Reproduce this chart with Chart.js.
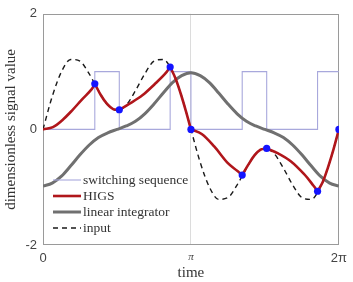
<!DOCTYPE html>
<html><head><meta charset="utf-8">
<script src="https://cdn.jsdelivr.net/npm/chart.js@4.4.1/dist/chart.umd.min.js"></script>
<style>html,body{margin:0;padding:0;background:#fff;}</style>
</head><body>
<canvas id="c" width="353" height="282" style="width:353px;height:282px;display:block"></canvas>
<script>
// ---- data ----
const PI = Math.PI;
const xTickValues = [0, PI, 2 * PI];
const xTickLabels = ['0', 'π', '2π'];
const yTickValues = [-2, 0, 2];
const yTickLabels = ['-2', '0', '2'];

const seriesLabels = ['switching sequence', 'HIGS', 'linear integrator', 'input'];

// input signal (dashed)
const inputTimes = [0, 0.196, 0.393, 0.589, 0.785, 0.982, 1.178, 1.374, 1.571, 1.767, 1.963, 2.160, 2.356, 2.553, 2.749, 2.945, 3.1416,
  3.338, 3.534, 3.731, 3.927, 4.123, 4.320, 4.516, 4.712, 4.909, 5.105, 5.301, 5.498, 5.694, 5.890, 6.087, 6.2832];
const inputValues = [0, 0.57, 1.00, 1.21, 1.18, 0.96, 0.67, 0.42, 0.33, 0.42, 0.67, 0.96, 1.18, 1.21, 1.00, 0.57, 0,
  -0.57, -1.00, -1.21, -1.18, -0.96, -0.67, -0.42, -0.33, -0.42, -0.67, -0.96, -1.18, -1.21, -1.00, -0.57, 0];

// linear integrator (grey), same time grid as input
const integratorValues = [-0.98, -0.93, -0.81, -0.63, -0.44, -0.27, -0.14, -0.06, 0, 0.06, 0.14, 0.27, 0.44, 0.63, 0.81, 0.93, 0.98,
  0.93, 0.81, 0.63, 0.44, 0.27, 0.14, 0.06, 0, -0.06, -0.14, -0.27, -0.44, -0.63, -0.81, -0.93, -0.98];

// switching sequence: state that starts at each time
const switchTimes = [0, 1.10, 1.62, 2.70, 3.1416, 4.23, 4.75, 5.83, 6.2832];
const switchStates = [0, 1, 0, 1, 0, 1, 0, 1, 1];

// HIGS output (red), corners at the switching instants
const higsTimes = [0, 0.21, 0.41, 0.62, 0.83, 1.04, 1.10, 1.23, 1.36, 1.49, 1.62, 1.83, 2.11, 2.38, 2.59, 2.70, 2.81, 2.92, 3.03, 3.1416,
  3.37, 3.64, 3.92, 4.13, 4.23, 4.36, 4.49, 4.62, 4.75, 4.98, 5.26, 5.54, 5.74, 5.83, 5.94, 6.05, 6.17, 6.2832];
const higsValues = [0, 0.04, 0.16, 0.33, 0.52, 0.70, 0.79, 0.59, 0.44, 0.35, 0.34, 0.44, 0.59, 0.79, 0.96, 1.08, 0.89, 0.63, 0.33, 0,
  -0.08, -0.30, -0.58, -0.72, -0.79, -0.61, -0.45, -0.35, -0.33, -0.41, -0.55, -0.77, -0.97, -1.07, -0.91, -0.66, -0.34, 0];

// ---- build datasets ----
const pts = (xs, ys) => xs.map((x, i) => ({ x: x, y: ys[i] }));
const isSwitch = t => switchTimes.slice(1).some(s => Math.abs(s - t) < 1e-3);

const higsSegments = [];
let seg = [];
higsTimes.forEach((t, i) => {
  seg.push({ x: t, y: higsValues[i] });
  if (isSwitch(t) && seg.length > 1) { higsSegments.push(seg); seg = [{ x: t, y: higsValues[i] }]; }
});
if (seg.length > 1) higsSegments.push(seg);

const dotPoints = [];
higsTimes.forEach((t, i) => { if (isSwitch(t)) dotPoints.push({ x: t, y: higsValues[i] }); });

const RED = '#b0161b', GREY = '#707070', LAV = '#a8a8dc', BLUE = '#1414ff';

const datasets = [];
datasets.push({ label: '', data: dotPoints, showLine: false, pointRadius: 3.6, pointBackgroundColor: BLUE,
  pointBorderWidth: 0, order: 0 });
higsSegments.forEach((s, k) => datasets.push({ label: k === 0 ? seriesLabels[1] : '', legendRank: k === 0 ? 1 : -1,
  data: s, borderColor: RED, borderWidth: 2.6, pointRadius: 0, tension: 0.35, order: 1 }));
datasets.push({ label: seriesLabels[3], legendRank: 3, data: pts(inputTimes, inputValues), borderColor: '#1a1a1a',
  borderWidth: 1.4, borderDash: [5, 4], pointRadius: 0, cubicInterpolationMode: 'monotone', order: 2 });
datasets.push({ label: seriesLabels[2], legendRank: 2, data: pts(inputTimes, integratorValues), borderColor: GREY,
  borderWidth: 3, pointRadius: 0, cubicInterpolationMode: 'monotone', order: 3 });
datasets.push({ label: seriesLabels[0], legendRank: 0, data: pts(switchTimes, switchStates), borderColor: LAV,
  borderWidth: 1.1, pointRadius: 0, stepped: 'before', order: 4 });

// ---- plugins ----
const boxPlugin = {
  id: 'box',
  beforeDatasetsDraw(chart) {
    const { ctx, chartArea: a } = chart;
    ctx.save(); ctx.strokeStyle = '#9a9a9a'; ctx.lineWidth = 1;
    ctx.strokeRect(Math.round(a.left) + 0.5, Math.round(a.top) + 0.5, Math.round(a.right - a.left) - 1, Math.round(a.bottom - a.top) - 1);
    ctx.restore();
  }
};
const insideLegend = {
  id: 'insideLegend',
  afterDraw(chart) {
    const { ctx, chartArea: a } = chart;
    const items = chart.data.datasets.filter(d => d.label && d.legendRank >= 0).sort((p, q) => p.legendRank - q.legendRank);
    ctx.save();
    ctx.font = '13.5px "Liberation Serif"';
    ctx.textBaseline = 'middle';
    ctx.fillStyle = '#333';
    items.forEach((d, i) => {
      const y = a.bottom - 65 + i * 16;
      const x0 = a.left + 10, x1 = a.left + 38;
      ctx.beginPath();
      ctx.strokeStyle = d.borderColor;
      ctx.lineWidth = d.borderWidth;
      ctx.setLineDash(d.borderDash || []);
      ctx.moveTo(x0, y); ctx.lineTo(x1, y); ctx.stroke();
      ctx.setLineDash([]);
      ctx.fillText(d.label, a.left + 40, y + 0.5);
    });
    ctx.restore();
  }
};

new Chart(document.getElementById('c'), {
  type: 'line',
  data: { datasets },
  options: {
    responsive: false, animation: false, devicePixelRatio: 1,
    layout: { padding: { top: 13, right: 7, left: 0, bottom: 0 } },
    plugins: { legend: { display: false }, tooltip: { enabled: false } },
    events: [],
    scales: {
      x: {
        type: 'linear', min: 0, max: 2 * PI,
        afterBuildTicks: s => { s.ticks = xTickValues.map(v => ({ value: v })); },
        afterFit: s => { s.height = 37; },
        grid: { drawTicks: false, color: c => (c.tick && Math.abs(c.tick.value - PI) < 1e-6) ? '#dcdcdc' : 'rgba(0,0,0,0)' },
        border: { display: false },
        ticks: {
          padding: 6, color: '#444', maxRotation: 0, autoSkip: false,
          callback: (v, i) => xTickLabels[i],
          font: c => (c.index === 1) ? { family: 'Liberation Serif', style: 'italic', size: 11 } : { family: 'Liberation Sans', size: 13 }
        },
        title: { display: true, text: 'time', color: '#333', font: { family: 'Liberation Serif', size: 15, lineHeight: 1.2 }, padding: 0 }
      },
      y: {
        min: -2, max: 2,
        afterBuildTicks: s => { s.ticks = yTickValues.map(v => ({ value: v })); },
        afterFit: s => { s.width = 43; },
        grid: { display: false, drawTicks: false },
        border: { display: false },
        ticks: { padding: 6, color: '#444', callback: (v, i) => yTickLabels[i], font: { family: 'Liberation Sans', size: 13 } },
        title: { display: true, text: 'dimensionless signal value', color: '#333', font: { family: 'Liberation Serif', size: 15, lineHeight: 1.5 }, padding: 0 }
      }
    }
  },
  plugins: [boxPlugin, insideLegend]
});
</script>
</body></html>
